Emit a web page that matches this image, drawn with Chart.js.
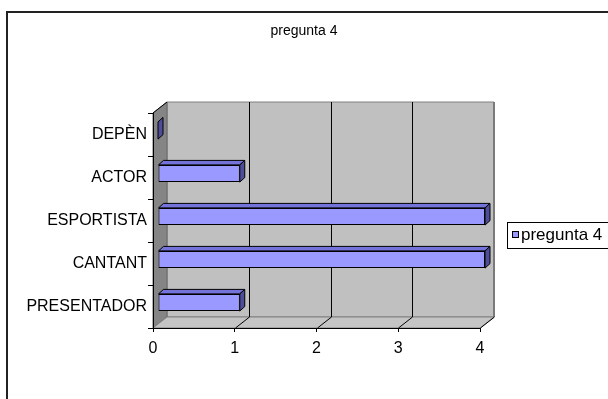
<!DOCTYPE html>
<html>
<head>
<meta charset="utf-8">
<script src="https://cdn.jsdelivr.net/npm/chart.js@4/dist/chart.umd.min.js"></script>
<style>
  html, body { margin: 0; padding: 0; background: #fff; }
  #wrap { width: 608px; height: 399px; }
</style>
</head>
<body>
<div id="wrap"><canvas id="chart" width="608" height="399"></canvas></div>
<script>
const categories = ['DEPÈN', 'ACTOR', 'ESPORTISTA', 'CANTANT', 'PRESENTADOR']
const seriesName = 'pregunta 4'
const chartTitle = 'pregunta 4'
const seriesValues = [0, 1, 4, 4, 1]
const valueTicks = [0, 1, 2, 3, 4]

const FONT = "'Liberation Sans', Arial, sans-serif"
const DEPTH = {x: 14, y: -11}      // wall depth
const BAR_SHIFT = {x: 5, y: -4}    // bar front face inside the depth
const BAR_DEPTH = {x: 5, y: -4.5}

const poly = (ctx, pts, fill, stroke, lw = 1) => {
    ctx.beginPath()
    ctx.moveTo(pts[0][0], pts[0][1])
    pts.slice(1).forEach(p => ctx.lineTo(p[0], p[1]))
    ctx.closePath()
    if (fill) { ctx.fillStyle = fill; ctx.fill() }
    if (stroke) { ctx.strokeStyle = stroke; ctx.lineWidth = lw; ctx.stroke() }
}

// frame, title, back wall, side wall and floor behind the bars
const box3d = {
    id: 'box3d',
    beforeDraw(chart) {
        const {ctx, chartArea: a, scales: {x}} = chart
        const dx = DEPTH.x, dy = DEPTH.y
        ctx.save()
        // outer frame
        ctx.strokeStyle = '#222'
        ctx.lineWidth = 2
        ctx.strokeRect(7, 12, 700, 500)
        // title, centred on the whole picture
        ctx.fillStyle = '#000'
        ctx.font = '14px ' + FONT
        ctx.textAlign = 'center'
        ctx.textBaseline = 'middle'
        ctx.fillText(chartTitle, chart.width / 2, 31)
        // back wall
        poly(ctx, [[a.left + dx, a.top + dy], [a.right + dx, a.top + dy], [a.right + dx, a.bottom + dy], [a.left + dx, a.bottom + dy]], '#c0c0c0', '#808080')
        // left wall
        poly(ctx, [[a.left, a.top], [a.left + dx, a.top + dy], [a.left + dx, a.bottom + dy], [a.left, a.bottom]], '#858585', '#666')
        // floor
        poly(ctx, [[a.left, a.bottom], [a.left + dx, a.bottom + dy], [a.right + dx, a.bottom + dy], [a.right, a.bottom]], '#c4c4c4', '#808080')
        // back wall right edge
        ctx.strokeStyle = '#7a7a7a'
        ctx.lineWidth = 2
        ctx.beginPath()
        ctx.moveTo(a.right + dx, a.top + dy)
        ctx.lineTo(a.right + dx, a.bottom + dy)
        ctx.stroke()
        // grid lines on the back wall and floor
        ctx.strokeStyle = '#000'
        ctx.lineWidth = 1
        valueTicks.forEach(v => {
            if (v === 0) return
            const px = Math.round(x.getPixelForValue(v)) + 0.5
            ctx.beginPath()
            if (v !== valueTicks[valueTicks.length - 1]) {
                ctx.moveTo(px + dx, a.top + dy)
                ctx.lineTo(px + dx, a.bottom + dy)
            }
            ctx.moveTo(px, a.bottom)
            ctx.lineTo(px + dx, a.bottom + dy)
            ctx.stroke()
        })
        // top edge of left wall
        ctx.beginPath()
        ctx.moveTo(a.left, a.top)
        ctx.lineTo(a.left + dx, a.top + dy)
        ctx.stroke()
        ctx.restore()
    }
}

// shift bars into the depth and add top and side faces
const bars3d = {
    id: 'bars3d',
    beforeDatasetsDraw(chart) {
        chart.ctx.save()
        chart.ctx.translate(BAR_SHIFT.x, BAR_SHIFT.y)
    },
    afterDatasetsDraw(chart) {
        const {ctx} = chart
        ctx.restore()
        const meta = chart.getDatasetMeta(0)
        const ddx = BAR_DEPTH.x, ddy = BAR_DEPTH.y
        meta.data.forEach(el => {
            const {x, y, base, height} = el.getProps(['x', 'y', 'base', 'height'], true)
            const l = base + BAR_SHIFT.x, r = x + BAR_SHIFT.x
            const t = y - height / 2 + BAR_SHIFT.y, b = y + height / 2 + BAR_SHIFT.y
            ctx.save()
            ctx.lineJoin = 'miter'
            if (r - l > 0.5) {
                poly(ctx, [[l, t], [l + ddx, t + ddy], [r + ddx, t + ddy], [r, t]], '#7373d9', '#000')
            }
            poly(ctx, [[r, t], [r + ddx, t + ddy], [r + ddx, b + ddy], [r, b]], '#4d4d99', '#000')
            ctx.restore()
        })
    }
}

// boxed legend on the right
const boxLegend = {
    id: 'boxLegend',
    afterDraw(chart) {
        const {ctx} = chart
        const ds = chart.data.datasets[0]
        ctx.save()
        ctx.fillStyle = '#fff'
        ctx.fillRect(507, 222, 110, 26)
        ctx.strokeStyle = '#000'
        ctx.lineWidth = 1
        ctx.strokeRect(507.5, 222.5, 110, 26)
        ctx.fillStyle = ds.backgroundColor
        ctx.fillRect(512, 231, 6, 6)
        ctx.strokeRect(512.5, 231.5, 6, 6)
        ctx.fillStyle = '#000'
        ctx.font = '17px ' + FONT
        ctx.textBaseline = 'middle'
        ctx.fillText(ds.label, 521, 235)
        ctx.restore()
    }
}

new Chart(document.getElementById('chart'), {
    type: 'bar',
    data: {
        labels: categories,
        datasets: [{
            label: seriesName,
            data: seriesValues,
            backgroundColor: '#9999ff',
            borderColor: '#000',
            borderWidth: 1,
            borderSkipped: false,
            categoryPercentage: 0.8,
            barPercentage: 0.5,
            clip: false
        }]
    },
    options: {
        indexAxis: 'y',
        responsive: false,
        animation: false,
        layout: {padding: {left: 0, right: 128, top: 113, bottom: 41}},
        plugins: {
            legend: {display: false},
            tooltip: {enabled: false},
            title: {display: false}
        },
        scales: {
            x: {
                min: 0,
                max: 4,
                afterFit: s => { s.height = 30 },
                ticks: {stepSize: 1, color: '#000', padding: 7, font: {family: FONT, size: 16}},
                grid: {drawOnChartArea: false, tickLength: 4, color: '#000'},
                border: {color: '#000'}
            },
            y: {
                afterFit: s => { s.width = 153 },
                ticks: {color: '#000', padding: 1, font: {family: FONT, size: 16}},
                grid: {offset: true, drawOnChartArea: false, tickLength: 5, color: '#000'},
                border: {color: '#000'}
            }
        }
    },
    plugins: [box3d, bars3d, boxLegend]
})
</script>
</body>
</html>
